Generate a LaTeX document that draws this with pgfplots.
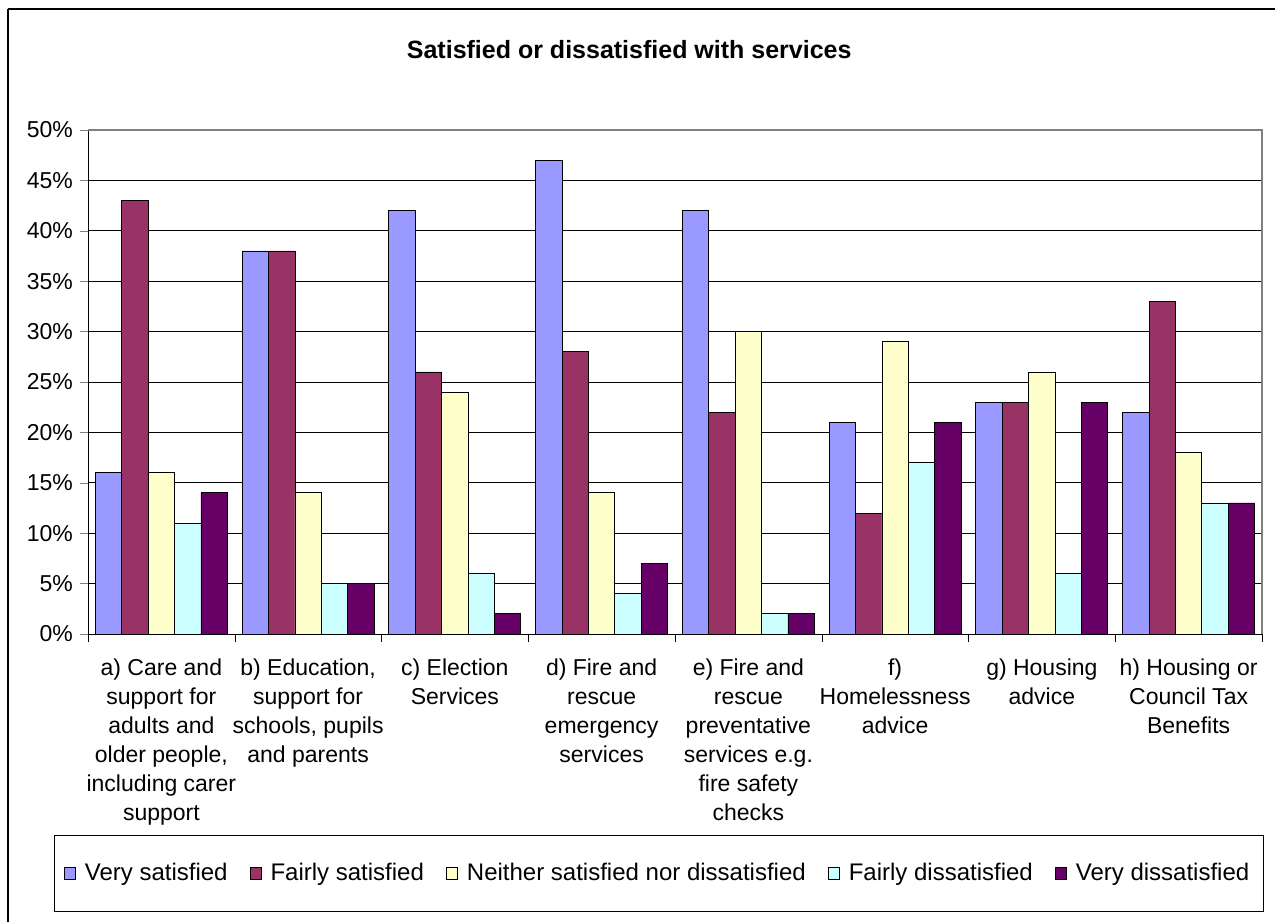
\documentclass[border=0pt]{standalone}
\usepackage{pgfplots}
\pgfplotsset{compat=1.18}
\usepackage{fontspec}
\setmainfont{Liberation Sans}

\definecolor{vsat}{HTML}{9999FF}
\definecolor{fsat}{HTML}{993366}
\definecolor{neith}{HTML}{FFFFCC}
\definecolor{fdis}{HTML}{CCFFFF}
\definecolor{vdis}{HTML}{660066}

\begin{document}
\begin{tikzpicture}
\begin{axis}[
    name=ax,
    scale only axis,
    width=587pt, height=252pt,
    ybar=0pt, bar width=13.2pt,
    xmin=-0.5, xmax=7.5,
    ymin=0, ymax=50,
    axis lines=left,
    axis line style={-, black},
    ytick={0,5,...,50},
    yticklabels={0\%,5\%,10\%,15\%,20\%,25\%,30\%,35\%,40\%,45\%,50\%},
    ymajorgrids,
    major grid style={black, line width=0.5pt},
    xtick={0,...,7},
    major x tick style={draw=none},
    minor xtick={-0.5,0.5,...,7.5},
    minor x tick style={black},
    tick align=outside,
    major tick length=4pt, minor tick length=4pt,
    ticklabel style={font=\fontsize{11.5}{13}\selectfont},
    xticklabel style={align=center, yshift=-5pt,
        font=\fontsize{11.5}{14.5}\selectfont},
    xticklabels={
        {a) Care and\\support for\\adults and\\older people,\\including carer\\support},
        {b) Education,\\support for\\schools, pupils\\and parents},
        {c) Election\\Services},
        {d) Fire and\\rescue\\emergency\\services},
        {e) Fire and\\rescue\\preventative\\services e.g.\\fire safety\\checks},
        {f)\\Homelessness\\advice},
        {g) Housing\\advice},
        {h) Housing or\\Council Tax\\Benefits}},
    legend columns=5,
    legend style={at={(0.486,-0.475)}, anchor=center,
        draw=none, fill=none,
        font=\fontsize{12}{14}\selectfont,
        /tikz/every odd column/.append style={column sep=2.5pt},
        /tikz/every even column/.append style={column sep=9pt}},
    legend image code/.code={\draw[#1, line width=0.4pt] (0pt,-3.2pt) rectangle (5.6pt,3.2pt);},
    clip=false,
]
\addplot[fill=vsat, draw=black, line width=0.4pt] coordinates
    {(0,16) (1,38) (2,42) (3,47) (4,42) (5,21) (6,23) (7,22)};
\addplot[fill=fsat, draw=black, line width=0.4pt] coordinates
    {(0,43) (1,38) (2,26) (3,28) (4,22) (5,12) (6,23) (7,33)};
\addplot[fill=neith, draw=black, line width=0.4pt] coordinates
    {(0,16) (1,14) (2,24) (3,14) (4,30) (5,29) (6,26) (7,18)};
\addplot[fill=fdis, draw=black, line width=0.4pt] coordinates
    {(0,11) (1,5) (2,6) (3,4) (4,2) (5,17) (6,6) (7,13)};
\addplot[fill=vdis, draw=black, line width=0.4pt] coordinates
    {(0,14) (1,5) (2,2) (3,7) (4,2) (5,21) (6,23) (7,13)};
\legend{Very satisfied, Fairly satisfied, Neither satisfied nor dissatisfied, Fairly dissatisfied, Very dissatisfied}
\draw[gray, line width=0.6pt] (rel axis cs:0,1) -- (rel axis cs:1,1) -- (rel axis cs:1,0);
\node[font=\bfseries\fontsize{12.5}{15}\selectfont] at ([yshift=40pt]rel axis cs:0.461,1) {Satisfied or dissatisfied with services};
\end{axis}
% legend frame
\draw[line width=0.5pt] ([shift={(-17pt,-100.75pt)}]ax.south west) rectangle ([shift={(0.5pt,-138.75pt)}]ax.south east);
% outer chart frame
\draw[line width=1pt] ([shift={(-40pt,60.5pt)}]ax.north west) -- ([shift={(20pt,60.5pt)}]ax.north east);
\draw[line width=1pt] ([shift={(-40pt,60.5pt)}]ax.north west) -- ([shift={(-40pt,-160pt)}]ax.south west);
\pgfresetboundingbox
\path[use as bounding box] ([shift={(-44pt,65pt)}]ax.north west) rectangle ([shift={(6.5pt,-143.75pt)}]ax.south east);
\end{tikzpicture}
\end{document}
